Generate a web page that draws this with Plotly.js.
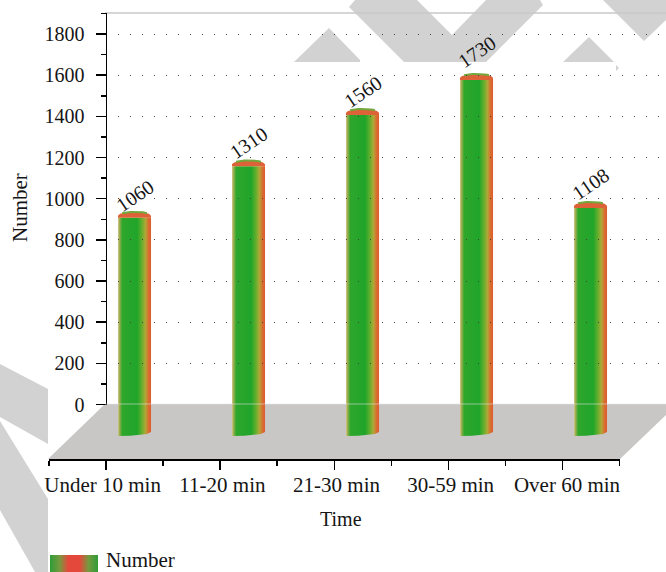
<!DOCTYPE html>
<html><head><meta charset="utf-8">
<script src="https://cdn.plot.ly/plotly-3.0.1.min.js"></script>
<style>html,body{margin:0;padding:0;background:#fff}#c{width:666px;height:572px}</style>
</head><body><div id="c"></div>
<script>
// ---- data ----
const categories = ['Under 10 min','11-20 min','21-30 min','30-59 min','Over 60 min'];
const values = [1060,1310,1560,1730,1108];
const seriesName = 'Number';
const yTicks = [0,200,400,600,800,1000,1200,1400,1600,1800];

// ---- page geometry helpers ----
const W=666,H=572;
const px=x=>x/W, py=y=>1-y/H;
const font='"Liberation Serif", serif', ink='#151515', fs=20;
const path=pts=>({type:'path',xref:'paper',yref:'paper',layer:'below',line:{width:0},
  fillcolor:'#d2d2d2',path:'M'+pts.map(p=>px(p[0])+','+py(p[1])).join(' L')+' Z'});
const markShapes=[
  [[0,364],[48,389],[48,444],[0,417]],
  [[0,421],[48,499],[48,572],[35,572],[0,510]],
  [[349,7],[355,0],[417,0],[452,35],[486,0],[540,0],[543,5],[486,62],[404,62]],
  [[294,62],[329,28],[360,60],[360,62]],
  [[563,62],[589,37],[614,62]],
  [[616,65],[619,68],[616,71]],
  [[603,0],[666,0],[666,20],[644,41]]
].map(path);
const floor=Object.assign(path([[48,459],[105,404],[666,404],[666,415],[620,459]]),{fillcolor:'#c9c6c6'});
const rim={type:'line',xref:'paper',yref:'paper',layer:'below',x0:px(105),x1:1,y0:py(13),y1:py(13),line:{color:'#c8c8c8',width:1.5}};
const floorRim={type:'line',xref:'paper',yref:'paper',layer:'above',x0:px(105),x1:1,y0:py(404),y1:py(404),line:{color:'rgba(232,232,232,0.55)',width:1}};

// ---- cylinders, all read from categories/values through x2/y2 ----
const halfW=0.145, capH=29, footH=20, N=16;
const barScale=[[0,'#dcc99a'],[0.04,'#a3b052'],[0.13,'#2fa62c'],[0.58,'#1fa52a'],[0.72,'#62ae2c'],[0.83,'#aea838'],[0.92,'#d8702f'],[1,'#dc5a2e']];
const traces=[];
values.forEach((v,i)=>{
  const xs=[i-halfW],ys=[v],ax=[],ay=[];
  xs.push(i+halfW);ys.push(v);
  for(let k=N;k>=0;k--){const t=k/N;xs.push(i-halfW+2*halfW*t);ys.push(footH*(1-Math.sqrt(1-t*t)));}
  traces.push({type:'scatter',mode:'lines',x:xs,y:ys,xaxis:'x2',yaxis:'y2',fill:'toself',line:{width:0},
    fillgradient:{type:'horizontal',colorscale:barScale},hoverinfo:'skip',showlegend:false});
  for(let k=0;k<=N;k++){const t=k/N;ax.push(i-halfW+2*halfW*t);ay.push(v+capH*(0.35+0.65*Math.sqrt(1-Math.pow(2*t-1,2))));}
  traces.push({type:'scatter',mode:'lines',x:[i-halfW,...ax,i+halfW],y:[v,...ay,v],xaxis:'x2',yaxis:'y2',fill:'toself',
    fillcolor:'#dd6238',line:{width:0},hoverinfo:'skip',showlegend:false});
  traces.push({type:'scatter',mode:'lines',x:ax.slice(2,-2),y:ay.slice(2,-2),xaxis:'x2',yaxis:'y2',
    line:{color:'#72a83c',width:2},hoverinfo:'skip',showlegend:false});
});
// grid, axes and label holder subplots
traces.push({type:'scatter',mode:'none',x:[0],y:[0],xaxis:'x3',yaxis:'y3',hoverinfo:'skip',showlegend:false});
traces.push({type:'scatter',mode:'none',x:[0],y:[0],xaxis:'x',yaxis:'y',hoverinfo:'skip',showlegend:false});
traces.push({type:'scatter',mode:'none',x:[0],y:[0],xaxis:'x5',yaxis:'y',hoverinfo:'skip',showlegend:false});
// legend swatch
traces.push({type:'scatter',mode:'lines',x:[50,98,98,50,50],y:[555,555,573,573,555],xaxis:'x4',yaxis:'y4',fill:'toself',line:{width:0},
  fillgradient:{type:'horizontal',colorscale:[[0,'#2f9c38'],[0.2,'#749a3e'],[0.38,'#e4483a'],[0.62,'#e4483a'],[0.8,'#749a3e'],[1,'#2f9c38']]},hoverinfo:'skip',showlegend:false});

const yRange=[0,1902], xRange=[-0.5,4.5];
const labelLift=[22,23,23,28,24];
const annotations=values.map((v,i)=>({xref:'x2',yref:'y2',x:i,y:v,text:String(v),showarrow:false,yshift:labelLift[i],textangle:-34,
  xanchor:'center',yanchor:'middle',font:{family:font,size:fs,color:ink}}));
const txt=(t,x,y,extra)=>Object.assign({xref:'paper',yref:'paper',x:px(x),y:py(y),xanchor:'center',yanchor:'middle',showarrow:false,text:t,font:{family:font,size:fs,color:ink}},extra||{});
annotations.push(txt(seriesName,104,560,{xanchor:'left',font:{family:font,size:21,color:ink}}));
annotations.push(txt('Time',341,519));
annotations.push(txt('Number',20,208,{textangle:-90,font:{family:font,size:21,color:ink}}));

const xDomain=[px(49),px(619.5)];
const layout={
  width:W,height:H,margin:{l:0,r:0,t:0,b:0},paper_bgcolor:'#fff',plot_bgcolor:'rgba(0,0,0,0)',showlegend:false,
  shapes:[...markShapes,rim,floor,floorRim],annotations,
  xaxis:{domain:xDomain,range:xRange,anchor:'free',position:py(459),showgrid:false,zeroline:false,
    showline:true,linecolor:'#000',linewidth:1.5,ticks:'outside',ticklen:9,tickwidth:1.5,tickcolor:'#000',
    tickmode:'array',tickvals:categories.map((c,i)=>i),showticklabels:false,
    minor:{ticks:'outside',ticklen:5,tickwidth:1.5,tickcolor:'#000',tickmode:'array',tickvals:[-0.5,0.5,1.5,2.5,3.5,4.5],showgrid:false}},
  xaxis5:{domain:xDomain,range:xRange,anchor:'free',position:py(459),showgrid:false,zeroline:false,showline:false,ticks:'outside',ticklen:6,tickcolor:'rgba(0,0,0,0)',
    tickmode:'array',tickvals:[-0.03,1.02,2.02,3.02,4.04],ticktext:categories,tickangle:0,ticklabelstandoff:1,
    tickfont:{family:font,size:21,color:ink}},
  yaxis:{domain:[py(404.5),py(13)],range:yRange,anchor:'free',position:px(105.5),showgrid:false,zeroline:false,
    showline:true,linecolor:'#000',linewidth:1.5,ticks:'outside',ticklen:10,tickwidth:1.5,tickcolor:'#000',
    tickmode:'array',tickvals:yTicks,ticklabelstandoff:7,tickfont:{family:font,size:fs,color:ink},
    minor:{ticks:'outside',ticklen:5,tickwidth:1.5,tickcolor:'#000',dtick:100,showgrid:false}},
  xaxis2:{domain:[px(77.5),px(647.5)],range:xRange,visible:false,anchor:'y2'},
  yaxis2:{domain:[py(436),py(44.5)],range:yRange,visible:false,anchor:'x2'},
  xaxis3:{domain:[px(118),px(664)],range:[0,1],anchor:'y3',showgrid:false,zeroline:false,showline:false,ticks:'',showticklabels:false},
  yaxis3:{domain:[py(404.5),py(13)],range:yRange,anchor:'x3',zeroline:false,showline:false,ticks:'',showticklabels:false,
    tickmode:'array',tickvals:yTicks.slice(1),showgrid:true,gridcolor:'#444',gridwidth:1,griddash:'1px,11px'},
  xaxis4:{domain:[0,1],range:[0,W],visible:false,anchor:'y4'},
  yaxis4:{domain:[0,1],range:[H,0],visible:false,anchor:'x4'}
};
Plotly.newPlot('c',traces,layout,{displayModeBar:false,staticPlot:true});
</script></body></html>
